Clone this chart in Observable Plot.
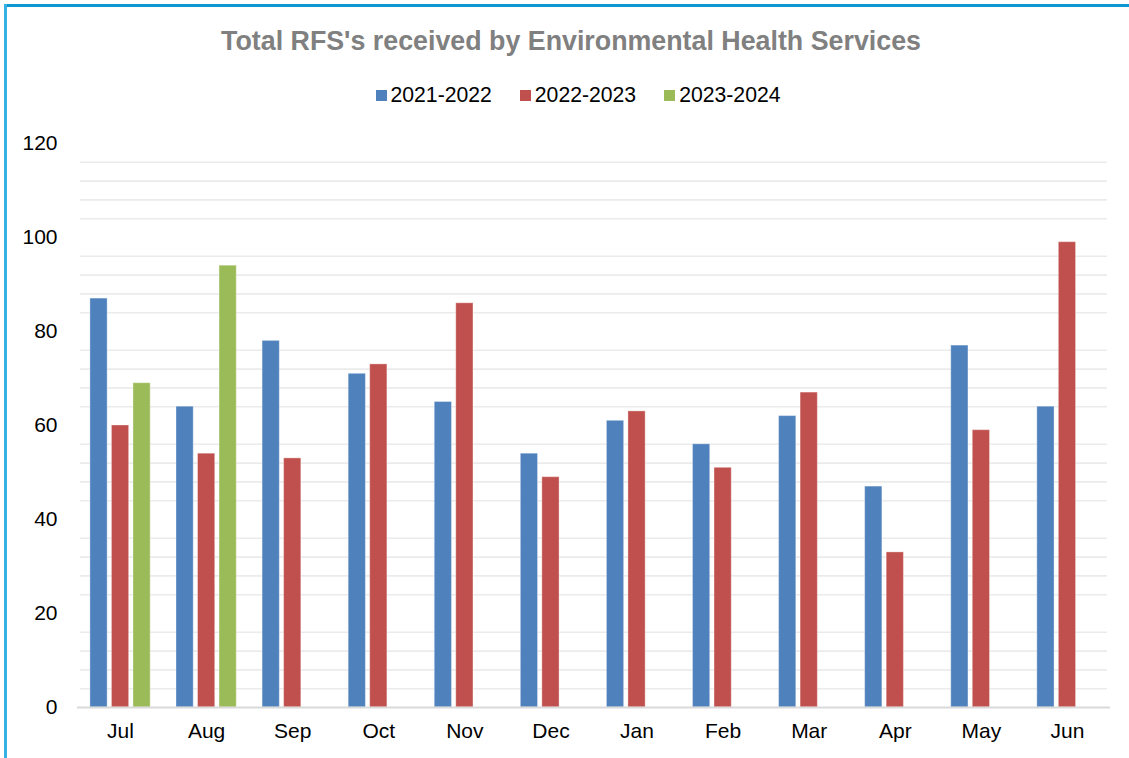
<!DOCTYPE html>
<html>
<head>
<meta charset="utf-8">
<script src="https://cdn.jsdelivr.net/npm/d3@7"></script>
<script src="https://cdn.jsdelivr.net/npm/@observablehq/plot@0.6"></script>
<style>
  html, body { margin: 0; padding: 0; background: #fff; }
  body { width: 1129px; height: 758px; position: relative; overflow: hidden; font-family: "Liberation Sans", Arial, sans-serif; }
  #topBorder { position: absolute; left: 4px; top: 4px; width: 1125px; height: 2.5px; background: #0b98d0; }
  #leftBorder { position: absolute; left: 4px; top: 4px; width: 2.5px; height: 754px; background: #35b1e4; }
  #title { position: absolute; left: 0; top: 26px; width: 1142px; text-align: center; font-size: 26.8px; font-weight: bold; color: #808080; line-height: 30px; white-space: nowrap; }
  #legend { position: absolute; left: 0; top: 82px; width: 1156px; display: flex; justify-content: center; align-items: center; font-size: 21.2px; color: #000; line-height: 26px; }
  #legend .item { display: flex; align-items: center; margin: 0 14px; }
  #legend .sw { width: 11px; height: 11px; margin-right: 4px; }
  #chart { position: absolute; left: 0; top: 120px; }
</style>
</head>
<body>
<div id="topBorder"></div>
<div id="leftBorder"></div>
<div id="title">Total RFS's received by Environmental Health Services</div>
<div id="legend"></div>
<div id="chart"></div>
<script>
const months = ["Jul","Aug","Sep","Oct","Nov","Dec","Jan","Feb","Mar","Apr","May","Jun"];
const series = ["2021-2022","2022-2023","2023-2024"];
const colors = ["#4f81bd","#c0504d","#9bbb59"];
const values2021 = [87, 64, 78, 71, 65, 54, 61, 56, 62, 47, 77, 64];
const values2022 = [60, 54, 53, 73, 86, 49, 63, 51, 67, 33, 59, 99];
const values2023 = [69, 94];
const yTicks = [0, 20, 40, 60, 80, 100, 120];
const minorGrid = d3.range(4, 120, 4).filter(v => v % 20 !== 0);

const seriesValues = [values2021, values2022, values2023];
const key = (m, s) => m + "|" + s;
const rows = [];
series.forEach((s, si) => {
  seriesValues[si].forEach((v, mi) => rows.push({month: months[mi], series: s, key: key(months[mi], s), value: v}));
});
const xDomain = months.flatMap((m, i) => [...series.map(s => key(m, s)), ...(i < months.length - 1 ? [m + "|gap"] : [])]);

// legend
const legend = document.getElementById("legend");
series.forEach((s, i) => {
  const it = document.createElement("div");
  it.className = "item";
  it.innerHTML = `<span class="sw" style="background:${colors[i]}"></span><span>${s}</span>`;
  legend.appendChild(it);
});

const chart = Plot.plot({
  width: 1129,
  height: 638,
  marginLeft: 77,
  marginRight: 19,
  marginTop: 23,
  marginBottom: 51,
  style: {fontFamily: "'Liberation Sans', Arial, sans-serif", fontSize: "21px", color: "#000", background: "transparent"},
  x: {type: "band", domain: xDomain, paddingInner: 0.2, paddingOuter: 0.6, round: false, axis: null},
  y: {domain: [0, 120], axis: null},
  color: {domain: series, range: colors},
  marks: [
    Plot.ruleY(minorGrid, {stroke: "#ebebeb", strokeWidth: 1.6, insetLeft: 3, insetRight: 3}),
    Plot.barY(rows, {x: "key", y: "value", fill: "series", stroke: "#ffffff", strokeOpacity: 0.35, strokeWidth: 1}),
    Plot.ruleY([0], {stroke: "#d9d9d9", strokeWidth: 2}),
    Plot.axisY(yTicks, {tickSize: 0, tickPadding: 20, label: null, fontSize: 21}),
    Plot.axisX(months.map(m => key(m, series[1])), {tickSize: 0, tickPadding: 16, label: null, tickFormat: d => d.split("|")[0], fontSize: 21})
  ]
});
document.getElementById("chart").appendChild(chart);
</script>
</body>
</html>
